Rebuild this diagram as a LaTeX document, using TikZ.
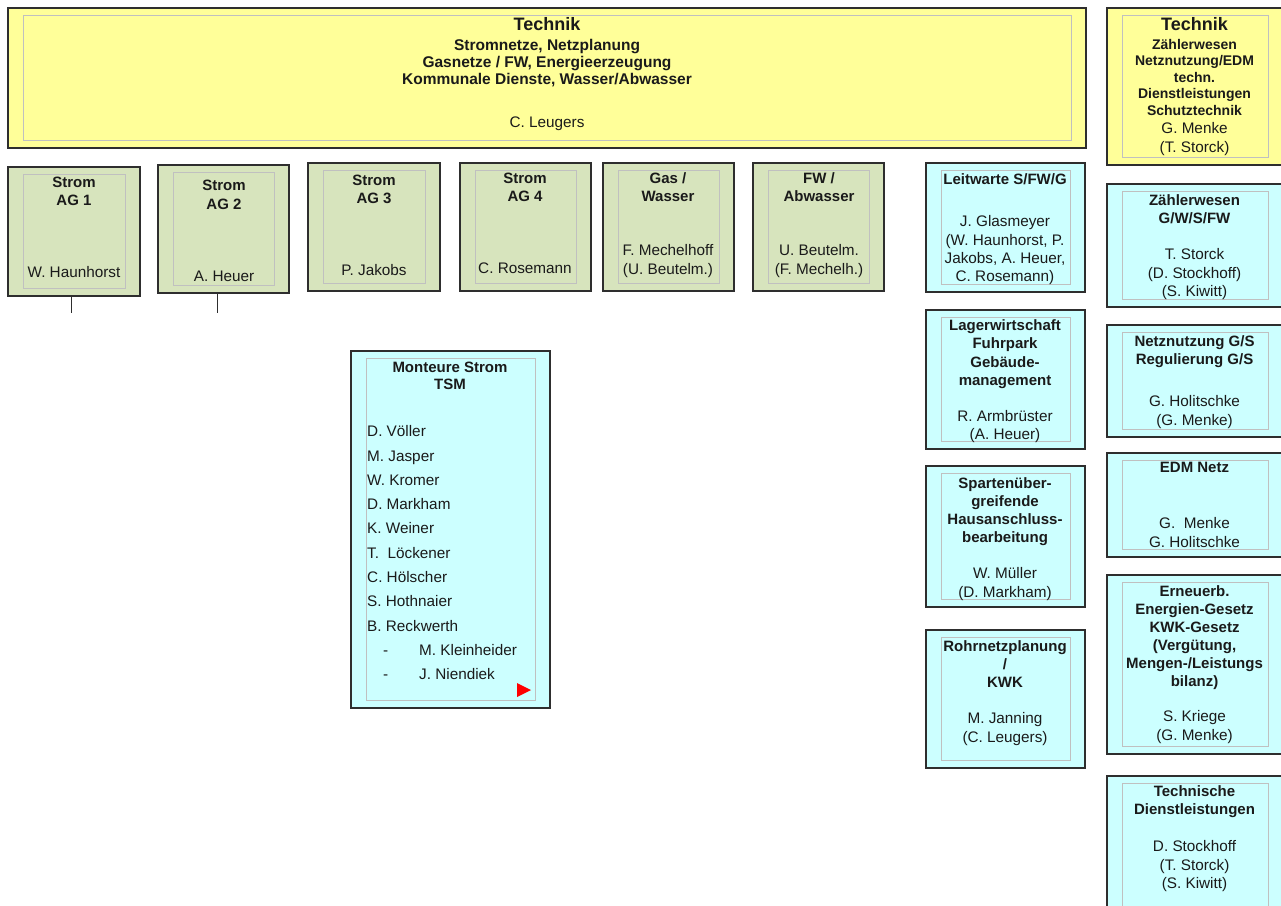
\documentclass[tikz,border=0pt]{standalone}
\usepackage{fontspec}
\setmainfont{Liberation Sans}
\definecolor{yellowfill}{HTML}{FFFF99}
\definecolor{greenfill}{HTML}{D7E4BD}
\definecolor{cyanfill}{HTML}{CCFFFF}
\definecolor{boxline}{HTML}{2E2E2E}
\definecolor{innerline}{HTML}{C0C0C0}
\definecolor{txt}{HTML}{1A1A1A}
\newcommand\orgbox[6]{%
  \node[outerbox, fill=#2, minimum width={#5-#3}, minimum height={#6-#4}] (#1) at (#3,#4) {};
  \node[innerbox, minimum width={#5-#3-30}, minimum height={#6-#4-15}] (#1-in) at ({#3+15},{#4+7}) {};
}
\begin{document}
\begin{tikzpicture}[x=1pt,y=-1pt,
  outerbox/.style={draw=boxline, line width=1.3pt, anchor=north west, inner sep=0pt, outer sep=0pt},
  innerbox/.style={draw=innerline, line width=1pt, anchor=north west, inner sep=0pt, outer sep=0pt},
  ttl/.style={font=\bfseries\fontsize{15}{18}\selectfont, align=center, anchor=north, inner sep=0pt, text=txt},
  bigttl/.style={font=\bfseries\fontsize{18}{20}\selectfont, align=center, anchor=north, inner sep=0pt, text=txt},
  pers/.style={font=\fontsize{15.3}{18.3}\selectfont, align=center, anchor=north, inner sep=0pt, text=txt},
  conn/.style={draw=boxline, line width=1pt}]
\useasboundingbox (0,0) rectangle (1281,905);
\clip (0,0) rectangle (1281,905);
\fill[white] (0,0) rectangle (1281,905);

% top boxes
\orgbox{tech}{yellowfill}{8}{8}{1086}{148}
\node[bigttl] (tech-t) at (547,17.5) {Technik};
\node[ttl, font=\bfseries\fontsize{15.5}{17}\selectfont] (tech-s) at (547,39.5) {Stromnetze, Netzplanung\\Gasnetze / FW, Energieerzeugung\\Kommunale Dienste, Wasser/Abwasser};
\node[pers] (tech-p) at (547,116.5) {C. Leugers};

\orgbox{techr}{yellowfill}{1107}{8}{1283}{165}
\node[bigttl] (techr-t) at (1194.5,17.5) {Technik};
\node[ttl, font=\bfseries\fontsize{14}{16.5}\selectfont] (techr-s) at (1194.5,39) {Zählerwesen\\Netznutzung/EDM\\techn.\\Dienstleistungen\\Schutztechnik};
\node[pers, font=\fontsize{15.3}{19}\selectfont] (techr-p) at (1194.5,122) {G. Menke\\(T. Storck)};

% Strom / Gas / FW boxes
\orgbox{ag1}{greenfill}{8}{167}{140}{296}
\node[ttl] (ag1-t) at (74,176.5) {Strom\\AG 1};
\node[pers] (ag1-p) at (74,266.5) {W. Haunhorst};

\orgbox{ag2}{greenfill}{158}{165}{289}{293}
\node[ttl, font=\bfseries\fontsize{15}{19}\selectfont] (ag2-t) at (224,179.5) {Strom\\AG 2};
\node[pers] (ag2-p) at (224,270.5) {A. Heuer};

\orgbox{ag3}{greenfill}{308}{163}{440}{291}
\node[ttl] (ag3-t) at (374,174.5) {Strom\\AG 3};
\node[pers] (ag3-p) at (374,264.5) {P. Jakobs};

\orgbox{ag4}{greenfill}{460}{163}{591}{291}
\node[ttl] (ag4-t) at (525,172.5) {Strom\\AG 4};
\node[pers] (ag4-p) at (525,262.5) {C. Rosemann};

\orgbox{gas}{greenfill}{603}{163}{734}{291}
\node[ttl] (gas-t) at (668,172.5) {Gas /\\Wasser};
\node[pers] (gas-p) at (668,244.5) {F. Mechelhoff\\(U. Beutelm.)};

\orgbox{fw}{greenfill}{753}{163}{884}{291}
\node[ttl] (fw-t) at (819,172.5) {FW /\\Abwasser};
\node[pers] (fw-p) at (819,244.5) {U. Beutelm.\\(F. Mechelh.)};

% stubs below AG 1 / AG 2
\coordinate (ag1end) at (71,313);
\coordinate (ag2end) at (217,313);
\draw[conn] (ag1.south -| ag1end) -- (ag1end);
\draw[conn] (ag2.south -| ag2end) -- (ag2end);

% Monteure
\orgbox{mont}{cyanfill}{351}{351}{550}{708}
\node[ttl, font=\bfseries\fontsize{15}{17}\selectfont] (mont-t) at (450,361.5) {Monteure Strom\\TSM};
\node[pers, align=left, anchor=north west, font=\fontsize{15.3}{24.3}\selectfont] (mont-l) at (367,425.5) {D. Völler\\M. Jasper\\W. Kromer\\D. Markham\\K. Weiner\\T.\ \ Löckener\\C. Hölscher\\S. Hothnaier\\B. Reckwerth\\\makebox[52pt][l]{\hspace*{16pt}-}M. Kleinheider\\\makebox[52pt][l]{\hspace*{16pt}-}J. Niendiek};
\fill[red] (517,683) -- (517,697) -- (531,690) -- cycle;

% middle-right column
\orgbox{leit}{cyanfill}{926}{163}{1085}{292}
\node[ttl] (leit-t) at (1005,173.5) {Leitwarte S/FW/G};
\node[pers] (leit-p) at (1005,215.5) {J. Glasmeyer\\(W. Haunhorst, P.\\Jakobs, A. Heuer,\\C. Rosemann)};

\orgbox{lager}{cyanfill}{926}{310}{1085}{449}
\node[ttl, font=\bfseries\fontsize{15}{18.3}\selectfont] (lager-t) at (1005,319.5) {Lagerwirtschaft\\Fuhrpark\\Gebäude-\\management};
\node[pers, font=\fontsize{15.3}{17.5}\selectfont] (lager-p) at (1005,410.5) {R. Armbrüster\\(A. Heuer)};

\orgbox{spart}{cyanfill}{926}{466}{1085}{607}
\node[ttl] (spart-t) at (1005,477.5) {Spartenüber-\\greifende\\Hausanschluss-\\bearbeitung};
\node[pers] (spart-p) at (1005,567.5) {W. Müller\\(D. Markham)};

\orgbox{rohr}{cyanfill}{926}{630}{1085}{768}
\node[ttl] (rohr-t) at (1005,640.5) {Rohrnetzplanung\\/\\KWK};
\node[pers] (rohr-p) at (1005,712.5) {M. Janning\\(C. Leugers)};

% right column
\orgbox{zaehl}{cyanfill}{1107}{184}{1283}{307}
\node[ttl] (zaehl-t) at (1194.5,194.5) {Zählerwesen\\G/W/S/FW};
\node[pers] (zaehl-p) at (1194.5,248.5) {T. Storck\\(D. Stockhoff)\\(S. Kiwitt)};

\orgbox{netz}{cyanfill}{1107}{325}{1283}{437}
\node[ttl] (netz-t) at (1194.5,335.5) {Netznutzung G/S\\Regulierung G/S};
\node[pers, font=\fontsize{15.3}{19}\selectfont] (netz-p) at (1194.5,395.5) {G. Holitschke\\(G. Menke)};

\orgbox{edm}{cyanfill}{1107}{453}{1283}{557}
\node[ttl] (edm-t) at (1194.5,461.5) {EDM Netz};
\node[pers] (edm-p) at (1194.5,517.5) {G.\ \ Menke\\G. Holitschke};

\orgbox{eeg}{cyanfill}{1107}{575}{1283}{754}
\node[ttl] (eeg-t) at (1194.5,585.5) {Erneuerb.\\Energien-Gesetz\\KWK-Gesetz\\(Vergütung,\\Mengen-/Leistungs\\bilanz)};
\node[pers, font=\fontsize{15.3}{19}\selectfont] (eeg-p) at (1194.5,710.5) {S. Kriege\\(G. Menke)};

\orgbox{tdl}{cyanfill}{1107}{776}{1283}{915}
\node[ttl] (tdl-t) at (1194.5,785.5) {Technische\\Dienstleistungen};
\node[pers] (tdl-p) at (1194.5,840.5) {D. Stockhoff\\(T. Storck)\\(S. Kiwitt)};
\end{tikzpicture}
\end{document}
